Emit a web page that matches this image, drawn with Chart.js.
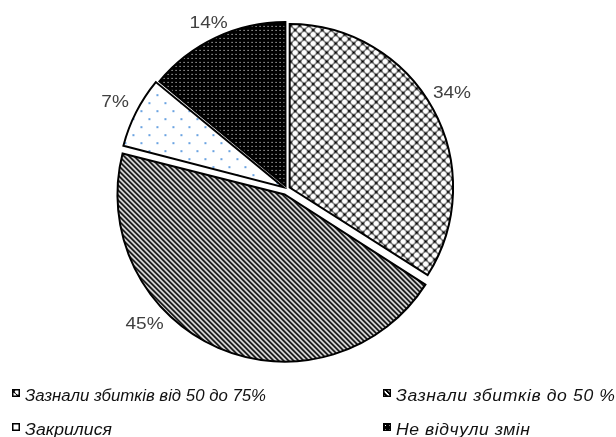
<!DOCTYPE html>
<html><head><meta charset="utf-8">
<script src="https://cdn.jsdelivr.net/npm/chart.js@4.4.1/dist/chart.umd.min.js"></script>
<style>html,body{margin:0;padding:0;background:#fff;}#wrap{position:relative;width:616px;height:437px;}</style>
</head><body><div id="wrap"><canvas id="c" width="616" height="437"></canvas></div>
<script>
const categories = ['Зазнали збитків від 50 до 75%', 'Зазнали збитків до 50 %', 'Закрилися', 'Не відчули змін'];
const values = [34, 45, 7, 14];
const valueLabels = ['34%', '45%', '7%', '14%'];

// styles
const sliceOffsets = [12, 24, 16, 14];
const labelShift = [-0.03, 0.42, 0, 0];
const labelGaps = [6, 9, 11, 4];
const legendCols = [12, 383];
const legendRows = [389, 423];
const legendWidths = [241, 219, 87, 134];

function tile(w, h, fn) {
  const c = document.createElement('canvas'); c.width = w; c.height = h;
  const g = c.getContext('2d'); fn(g, w, h); return c;
}
const ctx0 = document.getElementById('c').getContext('2d');
const pLattice = ctx0.createPattern(tile(9, 9, (g, w) => {
  g.fillStyle = '#fff'; g.fillRect(0, 0, w, w);
  g.strokeStyle = '#000'; g.lineWidth = 1.5;
  for (let k = -1; k <= 1; k++) {
    g.beginPath(); g.moveTo(-2 + k * w, -2); g.lineTo(w + 2 + k * w, w + 2); g.stroke();
    g.beginPath(); g.moveTo(w + 2 + k * w, -2); g.lineTo(-2 + k * w, w + 2); g.stroke();
  }
  g.fillStyle = '#fff';
  [[w / 2, 0], [w / 2, w], [0, w / 2], [w, w / 2]].forEach(([x, y]) => { g.beginPath(); g.arc(x, y, 2.75, 0, Math.PI * 2); g.fill(); });
}), 'repeat');
const pStripes = ctx0.createPattern(tile(5, 5, (g) => {
  g.fillStyle = '#fff'; g.fillRect(0, 0, 5, 5);
  for (let x = 0; x < 5; x++) for (let y = 0; y < 5; y++) {
    const m = (x - y + 10) % 5;
    if (m < 2) { g.fillStyle = '#000'; g.fillRect(x, y, 1, 1); }
    else if (m === 2) { g.fillStyle = '#555'; g.fillRect(x, y, 1, 1); }
  }
}), 'repeat');
const pDots = ctx0.createPattern(tile(16, 16, (g) => {
  g.fillStyle = '#fff'; g.fillRect(0, 0, 16, 16); g.fillStyle = '#6aa3e2';
  g.fillRect(0, 0, 2, 2); g.fillRect(8, 8, 2, 2);
}), 'repeat');
const pDark = ctx0.createPattern(tile(4, 4, (g) => {
  g.fillStyle = '#000'; g.fillRect(0, 0, 4, 4); g.fillStyle = '#fff';
  g.fillRect(1, 1, 1, 1);
}), 'repeat');
const fills = [pLattice, pStripes, pDots, pDark];

const labelSX = 1.12;
const labelPlugin = {
  id: 'pctLabels',
  afterDatasetsDraw(chart) {
    const ctx = chart.ctx; const meta = chart.getDatasetMeta(0);
    ctx.save();
    ctx.font = '17px "Liberation Sans", Arial, sans-serif';
    ctx.fillStyle = '#404040'; ctx.textAlign = 'center'; ctx.textBaseline = 'middle';
    meta.data.forEach((arc, i) => {
      const p = arc.getProps(['x', 'y', 'startAngle', 'endAngle', 'outerRadius'], true);
      const mid = (p.startAngle + p.endAngle) / 2;
      const off = (arc.options.offset || 0) / 4;
      const cx = p.x + Math.cos(mid) * off, cy = p.y + Math.sin(mid) * off;
      const a = mid + labelShift[i];
      const txt = valueLabels[i];
      const w = ctx.measureText(txt).width * labelSX, h = 12;
      const r = p.outerRadius + labelGaps[i] + Math.abs(Math.cos(a)) * w / 2 + Math.abs(Math.sin(a)) * h / 2;
      ctx.save(); ctx.translate(cx + Math.cos(a) * r, cy + Math.sin(a) * r); ctx.scale(labelSX, 1);
      ctx.fillText(txt, 0, 1); ctx.restore();
    });
    ctx.restore();
  }
};
const legendPlugin = {
  id: 'bottomLegend',
  afterDraw(chart) {
    const ctx = chart.ctx; const bg = chart.data.datasets[0].backgroundColor;
    ctx.save();
    ctx.font = 'italic 16px "Liberation Sans", Arial, sans-serif';
    ctx.textBaseline = 'alphabetic'; ctx.textAlign = 'left';
    categories.forEach((t, i) => {
      const x = legendCols[i % 2], y = legendRows[Math.floor(i / 2)];
      ctx.fillStyle = bg[i]; ctx.fillRect(x, y, 8, 8);
      ctx.strokeStyle = '#000'; ctx.lineWidth = 1.5; ctx.strokeRect(x + 0.75, y + 0.75, 6.5, 6.5);
      ctx.fillStyle = '#111';
      ctx.letterSpacing = '0px';
      const natRaw = ctx.measureText(t).width;
      const sx = Math.min(1.1, legendWidths[i] / natRaw);
      const ls = Math.max(0, (legendWidths[i] - natRaw * sx) / (t.length - 1) / sx);
      ctx.letterSpacing = ls.toFixed(2) + 'px';
      ctx.save(); ctx.translate(x + 13, y + 11.5); ctx.scale(sx, 1); ctx.fillText(t, 0, 0); ctx.restore();
    });
    ctx.restore();
  }
};

new Chart(document.getElementById('c'), {
  type: 'pie',
  data: {
    labels: categories,
    datasets: [{
      data: values,
      backgroundColor: fills,
      borderColor: '#000',
      borderWidth: 2,
      borderJoinStyle: 'miter',
      offset: sliceOffsets,
      hoverOffset: 0
    }]
  },
  options: {
    responsive: false,
    animation: false,
    radius: 163,
    layout: { padding: { left: 4, right: 46, top: 0, bottom: 59 } },
    plugins: { legend: { display: false }, tooltip: { enabled: false } },
    events: []
  },
  plugins: [labelPlugin, legendPlugin]
});
</script>
</body></html>
